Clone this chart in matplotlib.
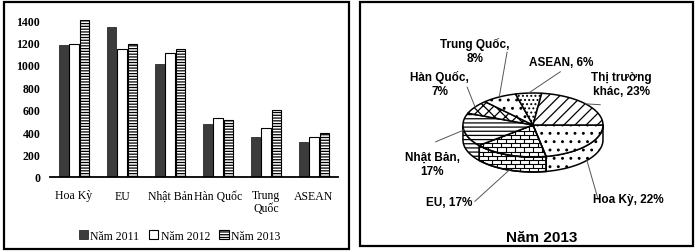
import numpy as np
import matplotlib.pyplot as plt
from matplotlib.patches import Polygon, Rectangle
from matplotlib.collections import LineCollection

# bar chart data (left panel)
countries = ["Hoa Kỳ", "EU", "Nhật Bản", "Hàn Quốc", "Trung\nQuốc", "ASEAN"]
years = ["Năm 2011", "Năm 2012", "Năm 2013"]
v2011 = [1180, 1335, 1010, 475, 355, 315]
v2012 = [1190, 1145, 1110, 525, 435, 355]
v2013 = [1400, 1185, 1145, 510, 600, 395]
yticks = [0, 200, 400, 600, 800, 1000, 1200, 1400]

# pie data (right panel)
pie_names = ["Hoa Kỳ", "EU", "Nhật Bản", "Hàn Quốc", "Trung Quốc", "ASEAN", "Thị trường\nkhác"]
pie_share = [22, 17, 17, 7, 8, 6, 23]
pie_title = "Năm 2013"

plt.rcParams['hatch.linewidth'] = 0.9
fig = plt.figure(figsize=(7, 2.53), dpi=100)

# panel frames
fig.patches.append(Rectangle((4 / 700, 3 / 253), 345 / 700, 247 / 253, transform=fig.transFigure,
                             fill=False, lw=1.6, ec="black"))
fig.patches.append(Rectangle((360 / 700, 6 / 253), 333 / 700, 244 / 253, transform=fig.transFigure,
                             fill=False, lw=1.6, ec="black"))

# ---- left: grouped bars
serif = ["Liberation Serif", "DejaVu Serif"]
ax = fig.add_axes([50 / 700, 1 - 178 / 253, 288 / 700, 157 / 253])
x = np.arange(len(countries))
w, off = 0.19, 0.225
ax.bar(x - off, v2011, w, color="#3c3c3c", edgecolor="#2a2a2a", lw=0.6, label=years[0])
ax.bar(x, v2012, w, color="white", edgecolor="black", lw=0.8, label=years[1])
ax.bar(x + off, v2013, w, color="white", edgecolor="black", lw=0.8, hatch="------", label=years[2])
ax.set_xlim(-0.5, len(countries) - 0.5)
ax.set_ylim(0, 1400)
ax.set_yticks(yticks)
ax.set_yticklabels([str(t) for t in yticks], family=serif, fontweight="bold", fontsize=8.5)
ax.set_xticks(x)
ax.set_xticklabels(countries, family=serif, fontsize=8.5, linespacing=1.0)
ax.tick_params(axis="y", length=0, pad=7)
ax.tick_params(axis="x", length=0, pad=9)
for s in ["top", "right", "left"]:
    ax.spines[s].set_visible(False)
ax.spines["bottom"].set_linewidth(1.3)
ax.legend(loc="center", bbox_to_anchor=(0.45, -0.375), ncol=3, frameon=False,
          prop={"family": serif, "size": 8.5}, handlelength=0.8, handleheight=0.8,
          handletextpad=0.2, columnspacing=0.8)

# ---- right: 3D-looking pie
sans = ["Liberation Sans Narrow", "Liberation Sans", "DejaVu Sans"]
ap = fig.add_axes([360 / 700, 1 - 250 / 253, 333 / 700, 244 / 253])
ap.set_xlim(-2.471, 2.286)
ap.set_ylim(-1.771, 1.714)
ap.axis("off")

rx, ry, depth = 1.0, 0.457, 0.214
hatches = ["..", None, "----", "xxx", "..", "....", "///"]
brick = [False, True, False, False, False, False, False]
fr = np.array(pie_share, dtype=float) / sum(pie_share)
edges = -360 * np.concatenate([[0], np.cumsum(fr)])


def arc(a1, a2, n=60):
    t = np.radians(np.linspace(a1, a2, n))
    return np.column_stack([rx * np.cos(t), ry * np.sin(t)])


def add_brick(patch):
    # brick-wall fill clipped to the patch
    h, bw = 0.06, 0.13
    segs = []
    rows = np.arange(-0.8, 0.6, h)
    for k, y0 in enumerate(rows):
        segs.append([(-1.1, y0), (1.1, y0)])
        shift = (k % 2) * bw / 2
        for x0 in np.arange(-1.1 + shift, 1.1, bw):
            segs.append([(x0, y0), (x0, y0 + h)])
    lc = LineCollection(segs, colors="black", lw=0.8, zorder=patch.get_zorder())
    ap.add_collection(lc)
    lc.set_clip_path(patch)


def slice_patch(pts, i, z):
    p = Polygon(pts, closed=True, fc="white", ec="black", lw=1.1,
                hatch=hatches[i], zorder=z)
    ap.add_patch(p)
    if brick[i]:
        add_brick(p)
        edge = Polygon(pts, closed=True, fill=False, ec="black", lw=1.1, zorder=z)
        ap.add_patch(edge)


for i in range(len(pie_share)):
    a1, a2 = edges[i], edges[i + 1]
    s1, s2 = min(a1, 0), max(a2, -180)
    if s1 > s2:
        top = arc(s1, s2)
        bot = top[::-1] - [0, depth]
        slice_patch(np.vstack([top, bot]), i, 1)
    slice_patch(np.vstack([[0, 0], arc(a1, a2)]), i, 2)

# label layout (text centre, leader end near text)
text_pos = [(1.36, -1.06), (-1.19, -1.10), (-1.44, -0.56), (-1.33, 0.59),
            (-0.83, 1.06), (0.40, 0.90), (1.26, 0.59)]
lead_pos = [(0.93, -1.06), (-0.83, -1.09), (-1.39, -0.24), (-0.94, 0.54),
            (-0.37, 1.04), (0.39, 0.76), (0.96, 0.29)]
seps = [", ", ", ", ",\n", ",\n", ",\n", ", ", ", "]

for i, name in enumerate(pie_names):
    m = np.radians((edges[i] + edges[i + 1]) / 2)
    axp, ayp = rx * np.cos(m), ry * np.sin(m)
    if np.sin(m) < -0.2:
        ayp -= depth
    ap.plot([lead_pos[i][0], axp], [lead_pos[i][1], ayp], color="#555555", lw=0.7, zorder=3)
    ap.text(text_pos[i][0], text_pos[i][1], f"{name}{seps[i]}{pie_share[i]}%",
            ha="center", va="center", family=sans, fontweight="bold", fontsize=8.5,
            linespacing=1.25)

ap.text(0.13, -1.60, pie_title, ha="center", va="center", family=["Liberation Sans", "DejaVu Sans"],
        fontweight="bold", fontsize=11)

plt.savefig("out.png", dpi=100)
